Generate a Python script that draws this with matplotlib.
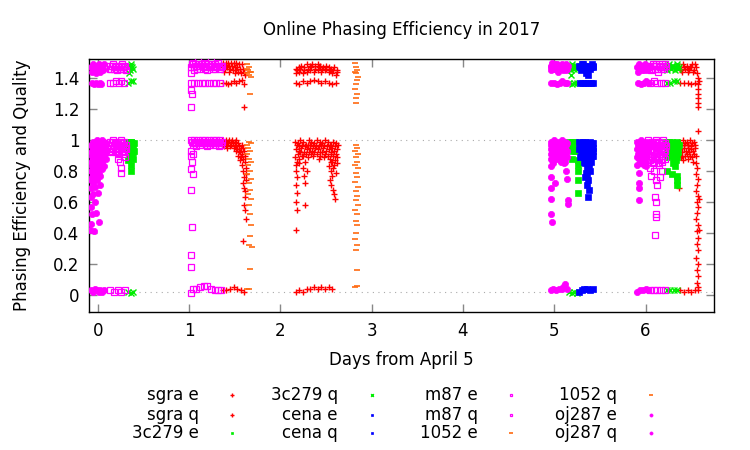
import matplotlib
matplotlib.use('Agg')
import matplotlib.pyplot as plt
import matplotlib.lines as mlines
import numpy as np

# (day, value) points, one list per source / quantity
sgra_e = [
    # day 1
    (1.36, 1.00), (1.38, 0.99), (1.40, 1.00), (1.42, 0.98), (1.44, 1.00), (1.46, 0.99), (1.48, 0.98), (1.50, 0.99), (1.52, 0.97),
    (1.37, 0.97), (1.41, 0.97), (1.45, 0.96), (1.49, 0.95), (1.53, 0.94), (1.55, 0.96), (1.56, 0.92), (1.57, 0.95),
    (1.54, 0.90), (1.56, 0.87), (1.58, 0.91), (1.58, 0.84), (1.59, 0.88), (1.59, 0.80), (1.60, 0.76), (1.59, 0.72),
    (1.60, 0.69), (1.61, 0.63), (1.60, 0.58), (1.61, 0.55), (1.62, 0.82), (1.61, 0.86), (1.62, 0.74), (1.59, 0.35), (1.62, 0.49),
    (1.39, 0.98), (1.43, 0.99), (1.47, 1.00), (1.51, 1.00), (1.54, 0.98), (1.38, 0.96), (1.42, 0.95), (1.46, 0.97),
    (1.50, 0.96), (1.52, 0.93), (1.55, 0.93), (1.57, 0.89), (1.58, 0.97), (1.60, 0.93), (1.61, 0.90), (1.59, 0.95),
    (1.62, 0.78), (1.61, 0.67),
    # day 2
    (2.16, 0.99), (2.19, 0.98), (2.22, 1.00), (2.25, 0.99), (2.28, 0.97), (2.31, 1.00), (2.34, 0.99), (2.37, 0.98),
    (2.40, 1.00), (2.43, 0.99), (2.46, 0.98), (2.49, 1.00), (2.52, 0.99), (2.55, 0.97), (2.58, 0.99), (2.61, 0.98),
    (2.17, 0.94), (2.20, 0.93), (2.23, 0.95), (2.26, 0.92), (2.29, 0.94), (2.32, 0.95), (2.35, 0.93), (2.38, 0.95),
    (2.41, 0.94), (2.44, 0.92), (2.47, 0.95), (2.50, 0.93), (2.53, 0.94), (2.56, 0.92), (2.59, 0.93), (2.62, 0.94),
    (2.16, 0.89), (2.21, 0.88), (2.24, 0.90), (2.27, 0.86), (2.30, 0.89), (2.36, 0.90), (2.42, 0.88), (2.48, 0.89),
    (2.54, 0.88), (2.57, 0.86), (2.60, 0.87), (2.62, 0.89),
    (2.18, 0.965), (2.21, 0.96), (2.24, 0.97), (2.27, 0.96), (2.30, 0.965), (2.33, 0.97), (2.36, 0.96), (2.39, 0.97),
    (2.42, 0.96), (2.45, 0.965), (2.48, 0.97), (2.51, 0.96), (2.54, 0.965), (2.57, 0.95), (2.60, 0.96), (2.63, 0.97),
    (2.19, 0.91), (2.22, 0.92), (2.25, 0.90), (2.28, 0.91), (2.31, 0.92), (2.34, 0.91), (2.37, 0.92), (2.40, 0.91),
    (2.43, 0.90), (2.46, 0.92), (2.49, 0.91), (2.52, 0.90), (2.55, 0.91), (2.58, 0.90), (2.61, 0.91),
    (2.55, 0.86), (2.59, 0.84), (2.62, 0.85), (2.18, 0.86), (2.20, 0.85),
    (2.17, 0.84), (2.17, 0.80), (2.18, 0.76), (2.17, 0.71), (2.18, 0.66), (2.17, 0.60), (2.18, 0.55), (2.17, 0.42),
    (2.25, 0.82), (2.26, 0.77), (2.27, 0.72), (2.27, 0.58), (2.29, 0.80),
    (2.53, 0.83), (2.55, 0.80), (2.57, 0.77), (2.54, 0.74), (2.56, 0.71), (2.58, 0.68), (2.59, 0.65), (2.60, 0.62),
    (2.58, 0.82), (2.61, 0.79),
    # day 6
    (6.37, 0.99), (6.39, 0.97), (6.41, 1.00), (6.43, 0.98), (6.45, 0.99), (6.47, 0.97), (6.49, 1.00), (6.51, 0.98), (6.53, 0.99),
    (6.38, 0.94), (6.40, 0.92), (6.42, 0.95), (6.44, 0.93), (6.46, 0.95), (6.48, 0.92), (6.50, 0.94), (6.52, 0.93), (6.54, 0.95),
    (6.39, 0.89), (6.43, 0.90), (6.47, 0.88), (6.51, 0.89), (6.55, 0.90),
    (6.38, 0.965), (6.42, 0.97), (6.46, 0.965), (6.50, 0.96), (6.54, 0.97), (6.40, 0.90), (6.45, 0.91), (6.49, 0.90),
    (6.53, 0.91), (6.41, 0.87), (6.52, 0.86),
    (6.55, 0.85), (6.56, 0.82), (6.55, 0.78), (6.57, 0.75), (6.56, 0.71), (6.55, 0.67), (6.57, 0.64), (6.56, 0.60),
    (6.58, 0.57), (6.56, 0.53), (6.55, 0.49), (6.57, 0.45), (6.56, 0.41), (6.58, 0.37), (6.56, 0.33), (6.57, 0.29),
    (6.55, 0.24), (6.57, 0.20), (6.56, 0.16), (6.58, 0.12), (6.56, 0.08), (6.57, 0.05), (6.58, 0.03), (6.59, 0.62),
    (6.59, 0.42), (6.37, 0.69), (6.58, 1.06),
]
sgra_q = [
    (1.37, 1.50), (1.40, 1.50), (1.43, 1.50), (1.46, 1.50), (1.49, 1.50), (1.52, 1.50), (1.55, 1.49), (1.58, 1.49),
    (1.36, 1.47), (1.39, 1.46), (1.42, 1.47), (1.45, 1.46), (1.48, 1.45), (1.51, 1.45), (1.54, 1.44), (1.57, 1.43),
    (1.60, 1.44), (1.38, 1.44), (1.44, 1.44), (1.50, 1.43),
    (1.38, 1.48), (1.41, 1.48), (1.44, 1.48), (1.47, 1.48), (1.50, 1.47), (1.53, 1.47), (1.56, 1.46), (1.59, 1.46), (1.61, 1.42),
    (1.37, 1.37), (1.40, 1.37), (1.43, 1.36), (1.46, 1.37), (1.49, 1.38), (1.52, 1.37), (1.55, 1.38), (1.58, 1.39),
    (1.60, 1.36), (1.60, 1.21),
    (1.37, 0.03), (1.41, 0.03), (1.45, 0.04), (1.49, 0.05), (1.53, 0.04), (1.57, 0.03), (1.60, 0.02),
    (2.17, 1.46), (2.20, 1.47), (2.23, 1.48), (2.26, 1.47), (2.29, 1.49), (2.32, 1.48), (2.35, 1.49), (2.38, 1.48),
    (2.41, 1.49), (2.44, 1.48), (2.47, 1.47), (2.50, 1.48), (2.53, 1.47), (2.56, 1.46), (2.59, 1.47), (2.62, 1.45),
    (2.17, 1.43), (2.21, 1.44), (2.25, 1.43), (2.29, 1.44), (2.33, 1.45), (2.37, 1.44), (2.41, 1.45), (2.45, 1.44),
    (2.49, 1.45), (2.53, 1.44), (2.57, 1.43), (2.61, 1.42),
    (2.18, 1.45), (2.22, 1.46), (2.26, 1.45), (2.30, 1.46), (2.34, 1.47), (2.38, 1.46), (2.42, 1.47), (2.46, 1.46),
    (2.50, 1.46), (2.54, 1.45), (2.58, 1.45), (2.62, 1.44),
    (2.17, 1.37), (2.21, 1.36), (2.25, 1.38), (2.29, 1.37), (2.33, 1.38), (2.37, 1.39), (2.41, 1.38), (2.45, 1.37),
    (2.49, 1.38), (2.53, 1.37), (2.57, 1.36), (2.61, 1.37),
    (2.17, 0.02), (2.21, 0.03), (2.25, 0.02), (2.29, 0.04), (2.33, 0.04), (2.37, 0.05), (2.41, 0.04), (2.45, 0.05),
    (2.49, 0.04), (2.53, 0.05), (2.57, 0.04),
    (6.37, 1.48), (6.39, 1.45), (6.41, 1.49), (6.43, 1.46), (6.45, 1.48), (6.47, 1.44), (6.49, 1.47), (6.51, 1.49),
    (6.53, 1.45), (6.55, 1.47), (6.56, 1.43),
    (6.38, 1.46), (6.42, 1.47), (6.46, 1.46), (6.50, 1.47), (6.54, 1.49), (6.40, 1.44), (6.48, 1.45), (6.52, 1.44),
    (6.38, 1.37), (6.42, 1.37), (6.46, 1.37), (6.50, 1.36), (6.54, 1.37),
    (6.57, 1.40), (6.57, 1.36), (6.58, 1.33), (6.57, 1.30), (6.58, 1.27), (6.57, 1.24), (6.58, 1.21), (6.59, 1.38),
    (6.38, 0.03), (6.42, 0.02), (6.46, 0.03), (6.50, 0.02), (6.54, 0.03),
]
c3c279_e = [
    (0.33, 0.99), (0.35, 0.97), (0.37, 0.99), (0.39, 0.96), (0.33, 0.95), (0.35, 0.93), (0.37, 0.94), (0.39, 0.92),
    (0.34, 0.91), (0.38, 0.90), (0.36, 0.96), (0.33, 0.87), (0.37, 0.84), (0.36, 0.80), (0.39, 0.88),
    (0.34, 0.98), (0.36, 0.99), (0.38, 0.98), (0.34, 0.94), (0.36, 0.92), (0.38, 0.95), (0.40, 0.98), (0.40, 0.93),
    (5.16, 0.99), (5.18, 0.97), (5.20, 0.99), (5.22, 0.96), (5.24, 0.98), (5.26, 0.97), (5.17, 0.94), (5.21, 0.93),
    (5.25, 0.94), (5.19, 0.88), (5.26, 0.87), (5.26, 0.84), (5.26, 0.80), (5.26, 0.74), (5.26, 0.66),
    (5.17, 0.98), (5.19, 0.96), (5.21, 0.98), (5.23, 0.99), (5.25, 0.96), (5.19, 0.94), (5.23, 0.93),
    (6.22, 0.99), (6.24, 0.97), (6.26, 0.99), (6.28, 0.96), (6.30, 0.98), (6.32, 0.97), (6.34, 0.99), (6.36, 0.96),
    (6.23, 0.94), (6.25, 0.92), (6.27, 0.94), (6.29, 0.91), (6.31, 0.90), (6.33, 0.87), (6.35, 0.89),
    (6.23, 0.97), (6.25, 0.96), (6.27, 0.98), (6.29, 0.99), (6.31, 0.95), (6.33, 0.96), (6.35, 0.98), (6.37, 0.97),
    (6.24, 0.91), (6.26, 0.90), (6.28, 0.93), (6.32, 0.92), (6.34, 0.93), (6.36, 0.92), (6.31, 0.87),
    (6.23, 0.89), (6.30, 0.85), (6.32, 0.83), (6.23, 0.80), (6.29, 0.78), (6.35, 0.77), (6.35, 0.74), (6.35, 0.71),
]
c3c279_q = [
    (0.33, 1.48), (0.35, 1.45), (0.37, 1.49), (0.39, 1.46), (0.34, 1.43), (0.34, 1.47), (0.36, 1.48), (0.38, 1.47),
    (0.33, 1.37), (0.36, 1.38), (0.39, 1.38), (0.33, 0.02), (0.36, 0.01), (0.39, 0.02),
    (5.16, 1.48), (5.18, 1.45), (5.20, 1.49), (5.22, 1.46), (5.24, 1.48), (5.18, 1.42), (5.26, 1.47),
    (5.17, 1.47), (5.19, 1.48), (5.21, 1.47), (5.23, 1.48), (5.25, 1.46),
    (5.16, 1.37), (5.19, 1.36), (5.22, 1.37), (5.25, 1.37), (5.16, 0.02), (5.19, 0.01), (5.22, 0.02), (5.25, 0.01),
    (6.22, 1.48), (6.24, 1.45), (6.26, 1.49), (6.28, 1.46), (6.30, 1.48), (6.32, 1.45), (6.34, 1.49), (6.36, 1.46),
    (6.23, 1.47), (6.25, 1.48), (6.27, 1.47), (6.29, 1.48), (6.31, 1.47), (6.33, 1.47), (6.35, 1.48), (6.37, 1.47),
    (6.23, 1.37), (6.27, 1.37), (6.31, 1.38), (6.35, 1.38), (6.23, 0.03), (6.27, 0.03), (6.31, 0.03), (6.35, 0.03),
]
cena_e = [
    (5.27, 0.99), (5.29, 0.97), (5.31, 0.99), (5.33, 0.96), (5.35, 0.98), (5.37, 0.97), (5.39, 0.99), (5.41, 0.96), (5.43, 0.98),
    (5.27, 0.94), (5.29, 0.92), (5.31, 0.94), (5.33, 0.90), (5.35, 0.92), (5.37, 0.88), (5.39, 0.91), (5.41, 0.90), (5.43, 0.93),
    (5.28, 0.98), (5.30, 0.96), (5.32, 0.97), (5.34, 0.99), (5.36, 0.95), (5.38, 0.96), (5.40, 0.98), (5.42, 0.95),
    (5.30, 0.91), (5.32, 0.89), (5.36, 0.88), (5.40, 0.92), (5.42, 0.90), (5.33, 0.86), (5.37, 0.83), (5.39, 0.80),
    (5.36, 0.77),
    (5.28, 0.89), (5.34, 0.85), (5.36, 0.82), (5.38, 0.84), (5.40, 0.86), (5.35, 0.79),
    (5.34, 0.76), (5.37, 0.74), (5.36, 0.71), (5.38, 0.68), (5.37, 0.63),
]
cena_q = [
    (5.27, 1.48), (5.29, 1.45), (5.31, 1.49), (5.33, 1.46), (5.35, 1.43), (5.37, 1.42), (5.39, 1.46), (5.41, 1.49), (5.43, 1.47),
    (5.28, 1.47), (5.30, 1.49), (5.32, 1.46), (5.34, 1.48), (5.36, 1.45), (5.38, 1.48), (5.40, 1.47), (5.42, 1.48),
    (5.28, 1.37), (5.31, 1.37), (5.34, 1.37), (5.37, 1.37), (5.40, 1.37), (5.43, 1.37),
    (5.27, 0.02), (5.30, 0.03), (5.33, 0.04), (5.36, 0.04), (5.39, 0.03), (5.42, 0.04),
]
m87_e = [
    (0.13, 0.99), (0.13, 0.94), (0.15, 0.97), (0.15, 0.92), (0.17, 1.00), (0.17, 0.95), (0.19, 0.98), (0.19, 0.93),
    (0.21, 0.99), (0.21, 0.94), (0.23, 0.97), (0.23, 0.91), (0.25, 1.00), (0.25, 0.95), (0.27, 0.98), (0.27, 0.93),
    (0.29, 0.99), (0.29, 0.92), (0.31, 0.97), (0.31, 0.94),
    (0.14, 0.97), (0.16, 0.99), (0.18, 0.96), (0.20, 0.97), (0.22, 0.96), (0.24, 0.99), (0.26, 0.96), (0.28, 0.97),
    (0.30, 0.95), (0.16, 0.93), (0.20, 0.92), (0.28, 0.91),
    (0.22, 0.88), (0.24, 0.86), (0.25, 0.82), (0.26, 0.79), (0.30, 0.89),
    (1.02, 1.00), (1.04, 0.97), (1.06, 1.00), (1.08, 0.98), (1.10, 1.00), (1.12, 0.97), (1.14, 1.00), (1.16, 0.98),
    (1.18, 1.00), (1.20, 0.97), (1.22, 1.00), (1.24, 0.98), (1.26, 1.00), (1.28, 0.97), (1.30, 1.00), (1.32, 0.98),
    (1.34, 1.00), (1.36, 0.99), (1.05, 0.98), (1.15, 0.99), (1.25, 0.99), (1.35, 0.97),
    (1.03, 0.99), (1.07, 0.99), (1.11, 0.99), (1.13, 0.98), (1.17, 0.99), (1.19, 0.98), (1.21, 0.99), (1.23, 0.97),
    (1.27, 0.99), (1.29, 0.98), (1.31, 0.99), (1.33, 0.99),
    (1.02, 0.93), (1.02, 0.90), (1.03, 0.86), (1.02, 0.81), (1.04, 0.78), (1.02, 0.68), (1.03, 0.44), (1.02, 0.26),
    (1.02, 0.18), (1.04, 0.91), (1.08, 0.96), (1.20, 0.96), (1.33, 0.96),
    (6.03, 1.00), (6.03, 0.95), (6.03, 0.90), (6.05, 0.98), (6.05, 0.93), (6.05, 0.87), (6.05, 0.82),
    (6.07, 0.99), (6.07, 0.94), (6.07, 0.89), (6.09, 0.97), (6.09, 0.92), (6.09, 0.86), (6.09, 0.80),
    (6.11, 1.00), (6.11, 0.95), (6.11, 0.90), (6.13, 0.98), (6.13, 0.93), (6.13, 0.88),
    (6.15, 0.99), (6.15, 0.94), (6.15, 0.89), (6.15, 0.84), (6.17, 0.97), (6.17, 0.92), (6.17, 0.87),
    (6.19, 1.00), (6.19, 0.95), (6.19, 0.90), (6.21, 0.98), (6.21, 0.93), (6.21, 0.88),
    (6.04, 0.97), (6.06, 0.96), (6.08, 0.97), (6.10, 0.99), (6.12, 0.96), (6.14, 0.97), (6.16, 0.96), (6.18, 0.98),
    (6.20, 0.97), (6.22, 0.96), (6.06, 0.90), (6.08, 0.85), (6.10, 0.88), (6.12, 0.91), (6.14, 0.85), (6.16, 0.91),
    (6.18, 0.86), (6.20, 0.92),
    (6.11, 0.74), (6.13, 0.71), (6.10, 0.63), (6.11, 0.60), (6.11, 0.52), (6.11, 0.50), (6.10, 0.39),
    (6.06, 0.77), (6.16, 0.76), (6.18, 0.80),
]
m87_q = [
    (0.13, 1.48), (0.15, 1.46), (0.17, 1.49), (0.19, 1.47), (0.21, 1.45), (0.23, 1.48), (0.25, 1.46), (0.27, 1.49),
    (0.29, 1.47), (0.31, 1.45), (0.14, 1.46), (0.16, 1.48), (0.18, 1.46), (0.20, 1.48), (0.22, 1.47), (0.24, 1.46),
    (0.26, 1.48), (0.28, 1.46), (0.30, 1.48),
    (0.14, 1.37), (0.17, 1.37), (0.20, 1.38), (0.23, 1.37), (0.26, 1.38), (0.29, 1.37),
    (0.14, 0.03), (0.18, 0.02), (0.22, 0.03), (0.26, 0.02), (0.30, 0.03),
    (1.02, 1.47), (1.04, 1.50), (1.06, 1.45), (1.08, 1.48), (1.10, 1.51), (1.12, 1.46), (1.14, 1.49), (1.16, 1.47),
    (1.18, 1.50), (1.20, 1.45), (1.22, 1.48), (1.24, 1.51), (1.26, 1.46), (1.28, 1.49), (1.30, 1.47), (1.32, 1.50),
    (1.34, 1.46), (1.36, 1.48),
    (1.03, 1.49), (1.05, 1.47), (1.07, 1.49), (1.09, 1.46), (1.11, 1.48), (1.13, 1.49), (1.15, 1.48), (1.17, 1.46),
    (1.19, 1.48), (1.21, 1.49), (1.23, 1.47), (1.25, 1.49), (1.27, 1.48), (1.29, 1.46), (1.31, 1.48), (1.33, 1.48),
    (1.35, 1.47),
    (1.02, 1.37), (1.06, 1.37), (1.10, 1.37), (1.14, 1.37), (1.18, 1.37), (1.22, 1.37), (1.26, 1.37), (1.30, 1.37),
    (1.34, 1.37), (1.02, 1.32), (1.03, 1.30), (1.02, 1.21), (1.02, 1.43),
    (1.02, 0.01), (1.04, 0.04), (1.08, 0.04), (1.12, 0.05), (1.16, 0.06), (1.20, 0.06), (1.24, 0.04), (1.28, 0.03),
    (1.32, 0.03), (1.35, 0.03),
    (6.04, 1.47), (6.06, 1.45), (6.08, 1.49), (6.10, 1.46), (6.12, 1.48), (6.14, 1.44), (6.16, 1.47), (6.18, 1.49),
    (6.20, 1.46), (6.22, 1.48), (6.05, 1.48), (6.07, 1.46), (6.09, 1.48), (6.11, 1.49), (6.13, 1.46), (6.15, 1.48),
    (6.17, 1.46), (6.19, 1.47), (6.21, 1.49),
    (6.05, 1.37), (6.09, 1.38), (6.13, 1.37), (6.17, 1.37), (6.21, 1.37),
    (6.05, 0.03), (6.09, 0.03), (6.13, 0.03), (6.17, 0.03), (6.21, 0.03),
]
q1052_e = [
    (1.63, 0.97), (1.65, 0.95), (1.67, 0.93), (1.64, 0.91), (1.66, 0.88), (1.68, 0.86), (1.65, 0.84), (1.67, 0.80),
    (1.64, 0.78), (1.68, 0.75), (1.66, 0.72), (1.67, 0.68), (1.65, 0.65), (1.68, 0.62), (1.66, 0.58), (1.67, 0.52),
    (1.68, 0.45), (1.67, 0.38), (1.66, 0.32), (1.69, 0.31), (1.67, 0.17), (1.66, 0.99), (1.68, 0.98),
    (2.83, 0.97), (2.84, 0.95), (2.82, 0.93), (2.85, 0.91), (2.83, 0.89), (2.84, 0.86), (2.82, 0.84), (2.85, 0.82),
    (2.83, 0.79), (2.84, 0.76), (2.82, 0.73), (2.85, 0.70), (2.83, 0.67), (2.84, 0.64), (2.83, 0.61), (2.85, 0.58),
    (2.82, 0.55), (2.84, 0.52), (2.83, 0.48), (2.84, 0.45), (2.83, 0.40), (2.82, 0.36), (2.84, 0.32), (2.83, 0.29),
    (2.84, 0.16),
]
q1052_q = [
    (1.63, 1.46), (1.65, 1.45), (1.67, 1.44), (1.64, 1.43), (1.66, 1.42), (1.68, 1.44), (1.66, 1.47), (1.68, 1.41),
    (1.67, 1.30), (1.64, 1.49), (1.63, 0.04), (1.66, 0.04),
    (2.82, 1.50), (2.83, 1.47), (2.84, 1.45), (2.83, 1.43), (2.85, 1.41), (2.82, 1.44), (2.84, 1.39), (2.83, 1.36),
    (2.82, 1.33), (2.84, 1.30), (2.83, 1.27), (2.83, 1.24), (2.82, 0.05), (2.84, 0.06),
]
oj287_e = [
    (-0.07, 0.97), (-0.07, 0.92), (-0.07, 0.86), (-0.07, 0.80), (-0.07, 0.74), (-0.07, 0.69), (-0.07, 0.63),
    (-0.05, 0.99), (-0.05, 0.94), (-0.05, 0.89), (-0.05, 0.84), (-0.05, 0.78), (-0.05, 0.72), (-0.05, 0.65),
    (-0.03, 0.98), (-0.03, 0.93), (-0.03, 0.88), (-0.03, 0.82), (-0.03, 0.76), (-0.03, 0.70),
    (-0.01, 1.00), (-0.01, 0.95), (-0.01, 0.90), (-0.01, 0.85), (-0.01, 0.80), (-0.01, 0.74),
    (0.01, 0.99), (0.01, 0.94), (0.01, 0.89), (0.01, 0.83), (0.01, 0.78),
    (0.03, 0.98), (0.03, 0.93), (0.03, 0.88), (0.03, 0.84), (0.03, 0.77),
    (0.05, 1.00), (0.05, 0.96), (0.05, 0.91), (0.05, 0.86), (0.05, 0.81),
    (0.07, 0.99), (0.07, 0.94), (0.07, 0.89), (0.07, 0.83), (0.09, 0.98), (0.09, 0.93), (0.09, 0.88),
    (-0.06, 0.96), (-0.06, 0.90), (-0.06, 0.83), (-0.06, 0.76), (-0.04, 0.97), (-0.04, 0.91), (-0.04, 0.86),
    (-0.04, 0.80), (-0.02, 0.98), (-0.02, 0.92), (-0.02, 0.87), (0.00, 0.97), (0.00, 0.92), (0.00, 0.87),
    (0.02, 0.96), (0.02, 0.91), (0.04, 0.97), (0.04, 0.92), (0.06, 0.98), (0.06, 0.93), (0.08, 0.96), (0.08, 0.91),
    (-0.07, 0.57), (-0.06, 0.52), (-0.07, 0.46), (-0.08, 0.42), (-0.03, 0.60), (-0.02, 0.53), (0.00, 0.66),
    (0.02, 0.71), (-0.04, 0.41), (0.01, 0.47),
    (4.96, 0.99), (4.96, 0.94), (4.96, 0.88), (4.96, 0.83), (4.98, 0.98), (4.98, 0.93), (4.98, 0.87),
    (5.00, 1.00), (5.00, 0.95), (5.00, 0.90), (5.02, 0.98), (5.02, 0.93), (5.02, 0.88),
    (5.04, 0.99), (5.04, 0.94), (5.04, 0.89), (5.06, 0.97), (5.06, 0.92), (5.06, 0.87),
    (5.08, 1.00), (5.08, 0.95), (5.08, 0.90), (5.10, 0.98), (5.10, 0.93), (5.10, 0.88),
    (5.12, 0.99), (5.12, 0.94), (5.12, 0.86), (5.14, 0.98), (5.14, 0.93), (5.14, 0.89),
    (4.97, 0.97), (4.99, 0.96), (5.01, 0.97), (5.03, 0.96), (5.05, 0.97), (5.07, 0.96), (5.09, 0.97), (5.11, 0.96),
    (5.13, 0.97), (4.97, 0.91), (5.01, 0.92), (5.05, 0.91), (5.09, 0.92), (5.13, 0.91), (4.99, 0.85), (5.07, 0.86),
    (5.11, 0.85),
    (4.97, 0.76), (4.97, 0.69), (4.97, 0.62), (4.97, 0.52), (4.98, 0.47), (5.01, 0.72), (5.13, 0.80), (5.14, 0.75),
    (5.15, 0.61), (5.15, 0.59),
    (5.91, 0.99), (5.91, 0.94), (5.91, 0.89), (5.91, 0.84), (5.93, 0.98), (5.93, 0.93), (5.93, 0.88),
    (5.95, 1.00), (5.95, 0.95), (5.95, 0.90), (5.95, 0.85), (5.97, 0.98), (5.97, 0.93), (5.97, 0.87),
    (5.99, 0.99), (5.99, 0.94), (5.99, 0.89), (6.01, 0.97), (6.01, 0.92), (6.01, 0.86), (6.03, 0.99), (6.03, 0.94),
    (5.92, 0.97), (5.94, 0.96), (5.96, 0.97), (5.98, 0.96), (6.00, 0.98), (6.02, 0.96), (5.92, 0.91), (5.94, 0.91),
    (5.96, 0.88), (5.98, 0.90), (6.00, 0.92), (6.02, 0.90), (5.94, 0.85), (5.98, 0.84), (6.00, 0.83),
    (5.93, 0.79), (5.93, 0.72), (5.93, 0.69), (5.93, 0.61),
]
oj287_q = [
    (-0.07, 1.47), (-0.06, 1.44), (-0.05, 1.49), (-0.04, 1.45), (-0.03, 1.47), (-0.02, 1.43), (-0.01, 1.48),
    (0.00, 1.46), (0.01, 1.49), (0.02, 1.44), (0.03, 1.47), (0.04, 1.45), (0.05, 1.48), (0.06, 1.46), (0.07, 1.49),
    (-0.06, 1.47), (-0.04, 1.48), (-0.02, 1.46), (0.00, 1.48), (0.02, 1.47), (0.04, 1.48), (0.06, 1.45),
    (-0.06, 1.37), (-0.04, 1.36), (-0.02, 1.37), (0.00, 1.36), (0.02, 1.37), (0.04, 1.36),
    (-0.07, 0.03), (-0.05, 0.02), (-0.03, 0.04), (-0.01, 0.03), (0.01, 0.02), (0.03, 0.03), (0.05, 0.02), (0.07, 0.03),
    (4.96, 1.48), (4.97, 1.45), (4.98, 1.50), (5.00, 1.46), (5.01, 1.49), (5.03, 1.47), (5.04, 1.44), (5.06, 1.48),
    (5.07, 1.46), (5.09, 1.49), (5.10, 1.45), (5.12, 1.47), (5.13, 1.49), (5.14, 1.46), (5.15, 1.48),
    (4.97, 1.47), (4.99, 1.48), (5.01, 1.46), (5.03, 1.49), (5.05, 1.47), (5.08, 1.48), (5.11, 1.47), (5.13, 1.45),
    (4.97, 1.37), (5.00, 1.37), (5.03, 1.36), (5.06, 1.37), (5.09, 1.38), (5.12, 1.37), (5.14, 1.37),
    (4.96, 0.03), (4.99, 0.04), (5.02, 0.03), (5.05, 0.04), (5.08, 0.04), (5.10, 0.05), (5.12, 0.07), (5.14, 0.04),
    (5.91, 1.47), (5.92, 1.44), (5.93, 1.49), (5.95, 1.46), (5.96, 1.48), (5.98, 1.45), (5.99, 1.49), (6.01, 1.47),
    (6.02, 1.45), (6.04, 1.48), (5.92, 1.47), (5.94, 1.48), (5.96, 1.45), (5.98, 1.48), (6.00, 1.46), (6.03, 1.46),
    (5.92, 1.37), (5.95, 1.36), (5.98, 1.37), (6.01, 1.38), (6.04, 1.37),
    (5.91, 0.02), (5.94, 0.03), (5.97, 0.03), (6.00, 0.04), (6.03, 0.03),
]

labels = ['sgra e', 'sgra q', '3c279 e', '3c279 q', 'cena e', 'cena q',
          'm87 e', 'm87 q', '1052 e', '1052 q', 'oj287 e', 'oj287 q']
series = [sgra_e, sgra_q, c3c279_e, c3c279_q, cena_e, cena_q,
          m87_e, m87_q, q1052_e, q1052_q, oj287_e, oj287_q]

# marker style per series (gnuplot-ish point types)
styles = [
    dict(marker='+', color='#ff0000', ms=5, mew=1.0, mfc='none'),
    dict(marker='+', color='#ff0000', ms=5, mew=1.0, mfc='none'),
    dict(marker='s', color='#00ee00', ms=4, mew=0.5),
    dict(marker='x', color='#00ee00', ms=4, mew=1.0),
    dict(marker='s', color='#0000ff', ms=4, mew=0.5),
    dict(marker='s', color='#0000ff', ms=4, mew=0.5),
    dict(marker='s', color='#ff00ff', ms=4, mew=0.9, mfc='none'),
    dict(marker='s', color='#ff00ff', ms=4, mew=0.9, mfc='none'),
    dict(marker='_', color='#ff6a10', ms=4.5, mew=1.2),
    dict(marker='_', color='#ff6a10', ms=4.5, mew=1.2),
    dict(marker='o', color='#ff00ff', ms=4.5, mew=0.5),
    dict(marker='o', color='#ff00ff', ms=4.5, mew=0.5),
]

fig = plt.figure(figsize=(7.5, 4.5), dpi=100)
ax = fig.add_axes([89 / 750, 1 - 312 / 450, (714 - 89) / 750, (312 - 59) / 450])

# dotted reference lines
ax.axhline(1.0, color='#aaaaaa', lw=0.8, ls=(0, (1, 4)), zorder=1)
ax.axhline(0.02, color='#aaaaaa', lw=0.8, ls=(0, (1, 4)), zorder=1)

for pts, st in zip(series, styles):
    arr = np.array(pts)
    ax.plot(arr[:, 0], arr[:, 1], ls='none', zorder=3, **st)

ax.set_xlim(-0.095, 6.75)
ax.set_ylim(-0.11, 1.523)
ax.set_xticks([0, 1, 2, 3, 4, 5, 6])
ax.set_yticks([0, 0.2, 0.4, 0.6, 0.8, 1.0, 1.2, 1.4])
ax.set_yticklabels(['0', '0.2', '0.4', '0.6', '0.8', '1', '1.2', '1.4'])
ax.tick_params(direction='in', length=6, width=1, color='#888888', labelsize=12,
               top=True, right=True, pad=7)
for s in ax.spines.values():
    s.set_linewidth(1.0)

ax.set_title('Online Phasing Efficiency in 2017', fontsize=12, pad=17)
ax.set_xlabel('Days from April 5', fontsize=12, labelpad=8)
ax.set_ylabel('Phasing Efficiency and Quality', fontsize=12, labelpad=16)

# gnuplot style key: right aligned text, sample to the right
text_x = [199, 338, 478, 617]
mark_x = [232, 372, 511, 651]
row_y = [395, 415, 433]
for i, (lab, st) in enumerate(zip(labels, styles)):
    col, row = divmod(i, 3)
    fy = 1 - row_y[row] / 450
    fig.text(text_x[col] / 750, fy, lab, ha='right', va='center', fontsize=12)
    fig.add_artist(mlines.Line2D([mark_x[col] / 750], [fy], transform=fig.transFigure,
                                 ls='none', **dict(st, ms=st['ms'] * 0.5)))

fig.savefig('out.png', dpi=100)
